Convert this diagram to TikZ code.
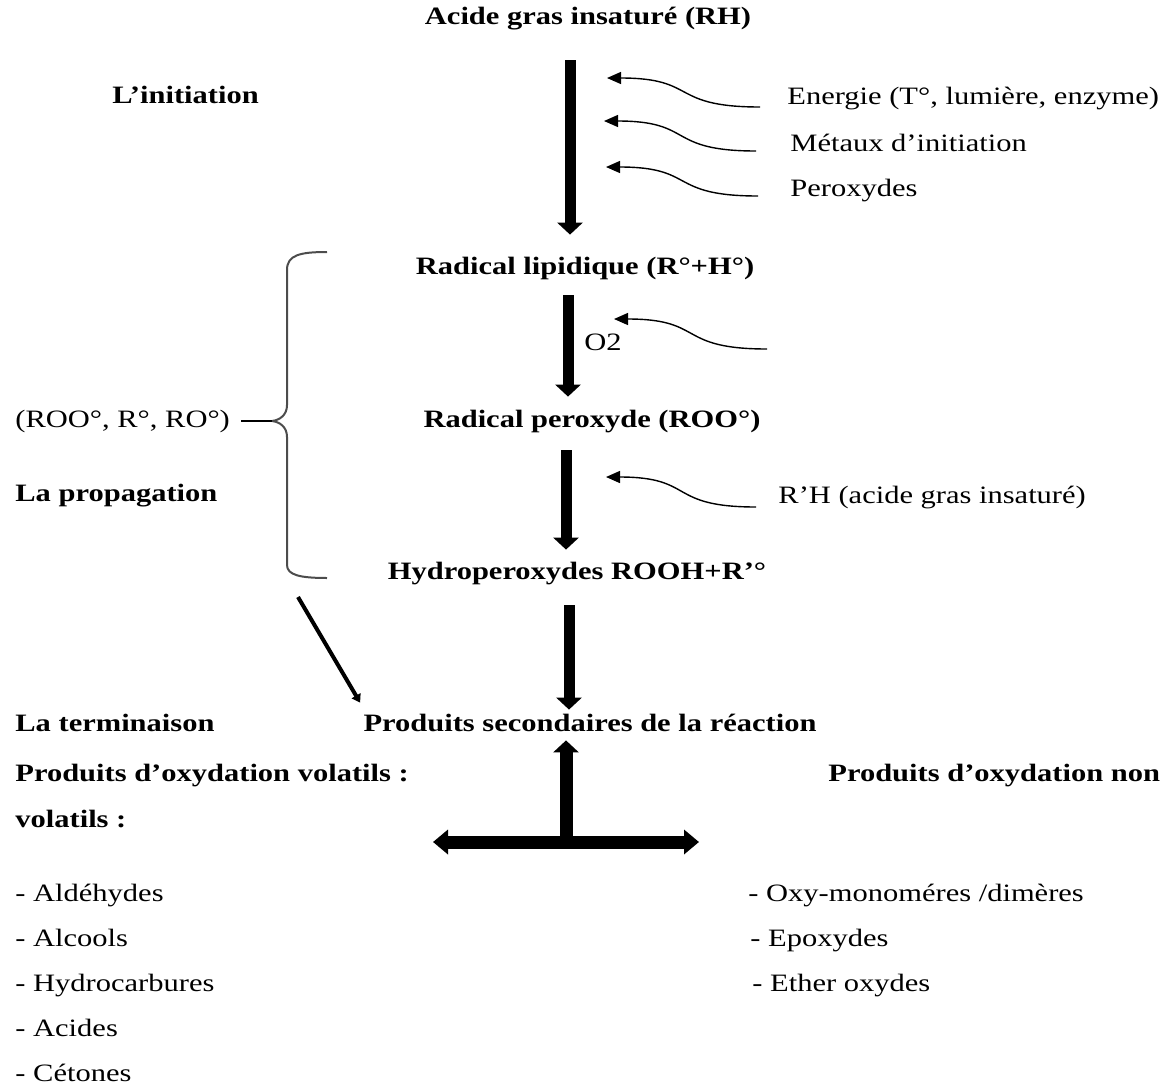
\documentclass[tikz,border=0pt]{standalone}
\usepackage{fontspec}
\setmainfont[FakeStretch=1.22]{Liberation Serif}
\usetikzlibrary{arrows.meta,calc}
\tikzset{
  lbl/.style={font=\fontsize{12.5}{15}\selectfont, inner sep=0pt, text height=9pt, text depth=3pt},
  titre/.style={lbl, font=\fontsize{12.5}{15}\selectfont\bfseries},
  bigarrow/.style={line width=5.5pt, -{Triangle[length=6pt,width=12.5pt]}},
  curvarrow/.style={line width=0.7pt, -{Triangle[length=7pt,width=6pt]}},
  diagarrow/.style={line width=2pt, -{Triangle[length=4pt,width=5pt]}},
  tarrow/.style={line width=6.5pt, {Triangle[length=7.5pt,width=12pt]}-{Triangle[length=7.5pt,width=12pt]}},
  bracestyle/.style={line width=1pt, black!70},
}
\begin{document}
\begin{tikzpicture}[x=0.5pt,y=-0.5pt]
\useasboundingbox (0,0) rectangle (1173,1087);
% textes du centre
\node[titre] (acide) at (588,18) {Acide gras insaturé (RH)};
\node[titre] (radlip) at (585,268) {Radical lipidique (R°+H°)};
\node[titre] (radper) at (592,421) {Radical peroxyde (ROO°)};
\node[titre] (hydro) at (577,573) {Hydroperoxydes ROOH+R’°};
\node[titre] (prodsec) at (590,725) {Produits secondaires de la réaction};
% textes de gauche
\node[titre,anchor=west] (init) at (112,97) {L’initiation};
\node[lbl,anchor=west] (roo) at (15,421) {(ROO°, R°, RO°)};
\node[titre,anchor=west] (propa) at (15,495) {La propagation};
\node[titre,anchor=west] (termi) at (15,725) {La terminaison};
\node[titre,anchor=west] (volat) at (15,775) {Produits d’oxydation volatils :};
\node[titre,anchor=west] (volat2) at (15,821) {volatils :};
\foreach \t [count=\i] in {Aldéhydes,Alcools,Hydrocarbures,Acides,Cétones}
  \node[lbl,anchor=west] (v\i) at (15,850+45*\i) {- \t};
% textes de droite
\node[lbl,anchor=west] (energie) at (787,98) {Energie (T°, lumière, enzyme)};
\node[lbl,anchor=west] (metaux) at (790,145) {Métaux d’initiation};
\node[lbl,anchor=west] (perox) at (790,190) {Peroxydes};
\node[lbl,anchor=west] (o2) at (584,344) {O2};
\node[lbl,anchor=west] (rh) at (778,497) {R’H (acide gras insaturé)};
\node[titre,anchor=west] (nonvolat) at (828,775) {Produits d’oxydation non};
\node[lbl,anchor=west] (nv1) at (748,895) {- Oxy-monoméres /dimères};
\node[lbl,anchor=west] (nv2) at (750,940) {- Epoxydes};
\node[lbl,anchor=west] (nv3) at (752,985) {- Ether oxydes};
% fleches principales
\draw[bigarrow] ($(acide.south)+(-18,30)$) -- ($(radlip.north)+(-15,-21)$);
\draw[bigarrow] ($(radlip.south)+(-17,15)$) -- ($(radper.north)+(-24,-12)$);
\draw[bigarrow] ($(radper.south)+(-26,17)$) -- ($(hydro.north)+(-11,-11)$);
\draw[bigarrow] ($(hydro.south)+(-8,20)$) -- ($(prodsec.north)+(-21,-3)$);
% fleches courbes
\coordinate (t1) at (607,78);
\coordinate (t2) at (604,121);
\coordinate (t3) at (606,167);
\coordinate (t4) at (614,319);
\coordinate (s4) at (767,349);
\coordinate (t5) at (606,477);
\draw[curvarrow] ($(energie.west)+(-27,9)$) to[out=180,in=0,looseness=1.5] (t1);
\draw[curvarrow] ($(metaux.west)+(-34,6)$) to[out=180,in=0,looseness=1.5] (t2);
\draw[curvarrow] ($(perox.west)+(-32,6)$) to[out=180,in=0,looseness=1.5] (t3);
\draw[curvarrow] (s4) to[out=180,in=0,looseness=1.5] (t4);
\draw[curvarrow] ($(rh.west)+(-22,10)$) to[out=180,in=0,looseness=1.5] (t5);
% accolade
\coordinate (bt) at (272,421);
\draw[bracestyle] (327,252) .. controls (300,252) and (287,255) .. (287,270)
  -- (287,405) .. controls (287,415) and (280,420) .. (bt)
  .. controls (280,422) and (287,427) .. (287,437)
  -- (287,565) .. controls (287,575) and (300,578) .. (327,578);
\draw[line width=1pt] ($(roo.east)+(11,0)$) -- (bt);
% terminaison
\coordinate (d1) at (298,597);
\draw[diagarrow] (d1) -- ($(prodsec.north west)+(-3,-10)$);
% fleche en T
\coordinate (tj) at (566,842);
\coordinate (tl) at (433,842);
\coordinate (tr) at (699,842);
\draw[bigarrow,line width=6.5pt] (tj) -- ($(prodsec.south)+(-24,3)$);
\draw[tarrow] (tl) -- (tr);
\end{tikzpicture}
\end{document}
